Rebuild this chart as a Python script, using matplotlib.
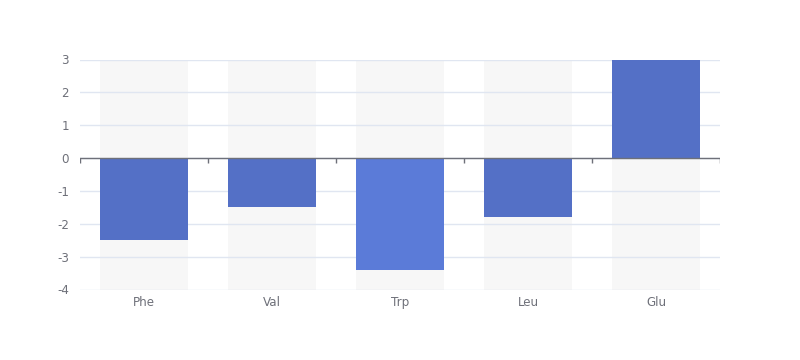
import matplotlib.pyplot as plt
import numpy as np

plt.rcParams['axes.unicode_minus'] = False

# data
categories = ['Phe', 'Val', 'Trp', 'Leu', 'Glu']
values = [-2.5, -1.5, -3.4, -1.8, 3.0]
bar_colors = ['#5470c6', '#5470c6', '#5b7bd8', '#5470c6', '#5470c6']
y_min, y_max = -4, 3

fig = plt.figure(figsize=(8, 3.6), dpi=100)
ax = fig.add_axes([0.1, 70.5 / 360, 0.8, 230 / 360])

x = np.arange(len(categories))

# background bars over the full value range
ax.bar(x, y_max - y_min, bottom=y_min, width=0.69, color='#f7f7f7', zorder=0)

# grid lines
for v in range(y_min, y_max + 1):
    ax.axhline(v, color='#e0e6f1', lw=1, zorder=1)

ax.bar(x, values, width=0.69, color=bar_colors, zorder=2)

# zero axis line with ticks at category boundaries
ax.axhline(0, color='#6e7079', lw=1, zorder=3)
bounds = np.arange(len(categories) + 1) - 0.5
ax.vlines(bounds, 0, -0.15, color='#6e7079', lw=1, zorder=3)

ax.set_xlim(-0.5, len(categories) - 0.5)
ax.set_ylim(y_min, y_max)
ax.set_xticks(x)
ax.set_xticklabels(categories)
ax.set_yticks(range(y_min, y_max + 1))
ax.tick_params(axis='both', length=0, labelsize=8.6, colors='#6e7079')
ax.tick_params(axis='x', pad=5)
ax.tick_params(axis='y', pad=8)
for s in ax.spines.values():
    s.set_visible(False)

fig.savefig('out.png', dpi=100)
